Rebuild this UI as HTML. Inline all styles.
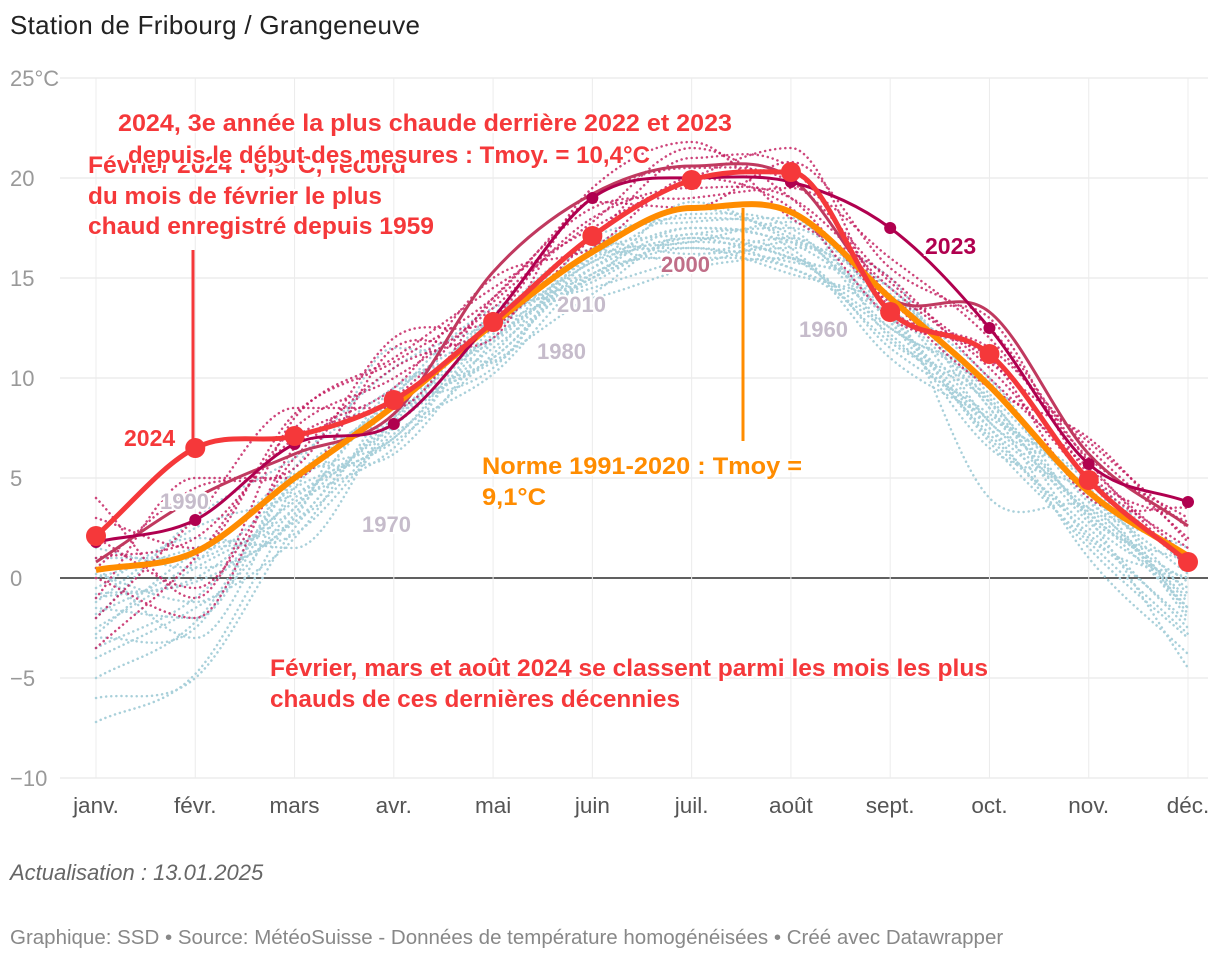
<!DOCTYPE html>
<html><head><meta charset="utf-8">
<style>
body{margin:0;background:#fff;font-family:"Liberation Sans",Arial,sans-serif;}
#wrap{position:relative;width:1220px;height:962px;overflow:hidden;}
.t{position:absolute;white-space:nowrap;}
svg text{font-family:"Liberation Sans",Arial,sans-serif;}
</style></head><body>
<div id="wrap">
<div class="t" style="left:10px;top:10px;font-size:26px;color:#222;letter-spacing:0.3px;">Station de Fribourg / Grangeneuve</div>
<svg id="c" width="1220" height="962" style="position:absolute;left:0;top:0"></svg>
<div class="t" style="left:10px;top:860px;font-size:22px;font-style:italic;color:#666;">Actualisation : 13.01.2025</div>
<div class="t" style="left:10px;top:926px;font-size:20.5px;color:#888;">Graphique: SSD • Source: MétéoSuisse - Données de température homogénéisées • Créé avec Datawrapper</div>
</div>
<script>
const months=["janv.","févr.","mars","avr.","mai","juin","juil.","août","sept.","oct.","nov.","déc."];
const yTicks=[25,20,15,10,5,0,-5,-10];
const s2024=[2.1,6.5,7.1,8.9,12.8,17.1,19.9,20.3,13.3,11.2,4.9,0.8];
const sNorm=[0.4,1.3,5.0,8.6,12.7,16.3,18.5,18.3,14.0,9.6,4.3,1.1];
const s2023=[1.8,2.9,6.7,7.7,13.0,19.0,20.0,19.8,17.5,12.5,5.7,3.8];
const s2022=[0.8,4.0,6.2,8.2,15.3,19.2,20.6,20.0,14.0,13.3,6.2,2.6];
const oldYears=[
[-7.2,-4.8,3.2,7.6,11.5,15.0,16.5,15.2,13.5,7.8,3.5,-1.0],
[-6.0,-5.0,2.5,8.0,11.0,15.5,17.5,16.8,14.5,8.5,3.0,-4.5],
[-3.5,-1.0,4.0,7.0,12.0,15.0,16.8,16.0,12.5,9.5,4.0,-1.5],
[-2.5,0.5,3.5,9.5,11.8,15.8,16.5,15.8,14.5,8.8,2.8,-0.5],
[-1.5,-2.0,5.0,8.5,10.5,16.5,18.0,17.2,12.8,6.5,4.2,-2.0],
[0.0,1.5,2.8,7.5,13.0,14.5,16.0,17.0,13.0,7.5,1.5,-3.0],
[-1.0,0.0,3.8,6.5,12.5,15.2,17.5,16.5,11.0,8.0,5.0,0.5],
[0.5,-3.0,4.5,8.8,11.0,16.0,18.5,17.0,13.8,4.0,3.5,-1.2],
[-0.5,2.0,1.5,8.0,12.2,17.0,17.8,18.0,12.0,9.0,2.0,0.0],
[-4.0,-1.5,2.0,9.0,13.5,14.0,15.5,16.0,11.5,8.2,4.5,-0.8],
[1.0,1.0,4.5,6.8,11.2,16.2,17.2,17.5,14.0,10.0,3.8,1.5],
[-2.0,3.0,6.0,9.5,12.0,15.5,17.0,15.5,13.0,7.0,2.5,-2.5],
[-3.0,-2.5,5.5,10.5,12.8,15.8,18.2,17.5,12.5,9.8,3.0,0.8],
[1.5,0.5,3.0,11.5,10.8,16.8,16.2,16.5,15.0,7.8,4.8,-1.8],
[-1.2,2.5,4.2,7.8,13.2,15.0,18.8,16.8,13.5,8.5,1.0,-3.8],
[-2.8,1.2,2.2,7.2,10.2,15.2,16.0,15.5,12.2,7.2,2.2,-2.2],
[0.2,-1.2,3.5,9.2,12.5,14.8,17.0,16.2,11.8,8.8,3.2,-0.2],
[-1.8,0.8,5.2,6.2,11.8,16.0,16.8,17.8,13.2,6.8,1.8,-2.8],
[-0.8,-0.2,2.8,8.2,10.8,14.2,17.2,16.0,14.2,9.2,4.2,0.2],
[-5.0,-2.2,4.8,7.0,12.8,16.4,15.8,16.8,12.8,7.5,3.3,-1.5]];
const recentYears=[
[-3.5,1.0,7.5,10.0,13.5,18.0,19.5,19.0,14.5,10.5,5.0,1.5],
[4.0,-1.0,8.0,11.0,14.5,17.5,20.0,21.5,13.5,11.5,6.5,2.0],
[0.5,4.5,5.5,12.0,13.0,19.5,21.8,18.0,15.0,10.0,5.5,1.0],
[-2.0,3.0,8.5,8.5,14.0,18.5,19.0,19.5,16.0,12.0,6.0,3.0],
[2.0,-0.5,6.0,10.5,12.5,17.0,21.0,20.5,14.0,9.5,7.0,1.8],
[1.0,2.0,7.0,9.5,15.0,16.5,20.0,18.5,13.0,11.0,4.0,3.5],
[-1.0,5.0,5.0,11.5,12.0,18.8,18.5,20.8,15.5,12.5,5.8,0.5],
[3.0,1.5,8.2,10.8,14.0,19.0,20.5,19.8,14.8,10.8,6.8,2.5],
[0.0,-2.0,6.5,9.0,13.8,17.8,21.5,19.0,13.8,13.0,5.2,2.8]];
const svg=document.getElementById('c');
const NS="http://www.w3.org/2000/svg";
const X=i=>96+i*(1188-96)/11;
const Y=v=>578-v*20;
function mk(t,a){const e=document.createElementNS(NS,t);for(const k in a)e.setAttribute(k,a[k]);svg.appendChild(e);return e;}
function path(vals){let p=[];for(let i=0;i<vals.length;i++)p.push([X(i),Y(vals[i])]);
 const n=p.length,d0=[],m=[];
 for(let i=0;i<n-1;i++)d0.push((p[i+1][1]-p[i][1])/(p[i+1][0]-p[i][0]));
 for(let i=0;i<n;i++){if(i===0)m.push(d0[0]);else if(i===n-1)m.push(d0[n-2]);
  else m.push(d0[i-1]*d0[i]<=0?0:(d0[i-1]+d0[i])/2);}
 let d="M"+p[0][0]+","+p[0][1];
 for(let i=0;i<n-1;i++){const h=(p[i+1][0]-p[i][0])/3;
  d+=` C${p[i][0]+h},${p[i][1]+m[i]*h} ${p[i+1][0]-h},${p[i+1][1]-m[i+1]*h} ${p[i+1][0]},${p[i+1][1]}`;}
 return d;}
yTicks.forEach(v=>{
 const l=mk('line',{x1:60,x2:1208,y1:Y(v),y2:Y(v),stroke:v===0?'#000':'#e3e3e3','stroke-width':v===0?1.3:1});
 
 const t=mk('text',{x:10,y:Y(v)+8,'font-size':22,fill:'#999'});t.textContent=(v<0?'−'+(-v):v)+(v===25?'°C':'');
 });
months.forEach((m,i)=>{
 const l=mk('line',{x1:X(i),x2:X(i),y1:78,y2:778,stroke:'#ececec'});
 
 const t=mk('text',{x:X(i),y:813,'font-size':22.5,fill:'#555','text-anchor':'middle'});t.textContent=m;
 });
oldYears.forEach(s=>{const e=mk('path',{d:path(s),fill:'none',stroke:'#a9d0da','stroke-width':2.5,'stroke-dasharray':'0.1 5','stroke-linecap':'round'});
 });
recentYears.forEach(s=>{const e=mk('path',{d:path(s),fill:'none',stroke:'#c2185b','stroke-width':2.5,'stroke-dasharray':'0.1 5','stroke-linecap':'round',opacity:0.8});
 });
let e=mk('path',{d:path(s2022),fill:'none',stroke:'#c0395f','stroke-width':3});

e=mk('path',{d:path(sNorm),fill:'none',stroke:'#ff8c00','stroke-width':6});

e=mk('path',{d:path(s2023),fill:'none',stroke:'#b0004f','stroke-width':3});

s2023.forEach((v,i)=>{const c=mk('circle',{cx:X(i),cy:Y(v),r:6,fill:'#b0004f'});
 });
e=mk('path',{d:path(s2024),fill:'none',stroke:'#f5383a','stroke-width':5});

s2024.forEach((v,i)=>{const c=mk('circle',{cx:X(i),cy:Y(v),r:10,fill:'#f5383a'});
 });
e=mk('line',{x1:193,x2:193,y1:250,y2:445,stroke:'#f5383a','stroke-width':3});

e=mk('line',{x1:743,x2:743,y1:208,y2:441,stroke:'#ff8c00','stroke-width':3});

function label(x,y,txt,col,size,name,len){const a={x:x,y:y,'font-size':size,'font-weight':'bold',fill:col,stroke:'#fff','stroke-width':4,'paint-order':'stroke'};
 if(len){a.textLength=len;a.lengthAdjust='spacingAndGlyphs';}
 const t=mk('text',a);t.textContent=txt;
 }
label(160,509,'1990','#c6bccb',22,'label-1990');
label(362,532,'1970','#c6bccb',22,'label-1970');
label(537,359,'1980','#c6bccb',22,'label-1980');
label(557,312,'2010','#c6bccb',22,'label-2010');
label(661,272,'2000','#c06e88',22,'label-2000');
label(799,337,'1960','#c6bccb',22,'label-1960');
label(925,254,'2023','#b0004f',23,'label-2023');
label(124,446,'2024','#f5383a',23,'label-2024');
label(88,173,'Février 2024 : 6,5°C, record','#f5383a',24,'annotation-feb',318);
label(88,204,'du mois de février le plus','#f5383a',24,'annotation-feb-2',294);
label(88,234,'chaud enregistré depuis 1959','#f5383a',24,'annotation-feb-3',346);
label(118,131,'2024, 3e année la plus chaude derrière 2022 et 2023','#f5383a',24,'annotation-year',614);
label(128,163,'depuis le début des mesures : Tmoy. = 10,4°C','#f5383a',24,'annotation-year-2',522);
label(482,474,'Norme 1991-2020 : Tmoy =','#ff8c00',24,'annotation-norm',320);
label(482,505,'9,1°C','#ff8c00',24,'annotation-norm-2',64);
label(270,676,'Février, mars et août 2024 se classent parmi les mois les plus','#f5383a',24,'annotation-months',718);
label(270,707,'chauds de ces dernières décennies','#f5383a',24,'annotation-months-2',410);
</script>
</body></html>
